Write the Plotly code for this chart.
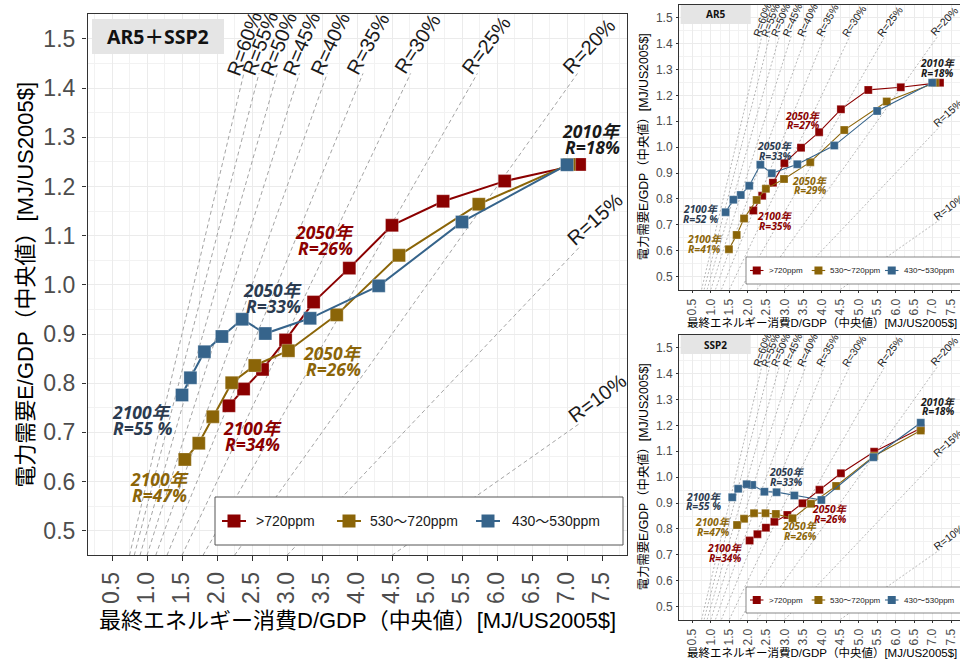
import math
import plotly.graph_objects as go

W, H = 960, 662

# ---------------------------------------------------------------- data
scenarios = [">720ppm", "530～720ppm", "430～530ppm"]
years = [2010, 2020, 2030, 2040, 2050, 2060, 2070, 2080, 2090, 2100]

# AR5＋SSP2
main_x_high = [7.18, 6.11, 5.23, 4.50, 3.89, 3.38, 2.98, 2.65, 2.38, 2.17]
main_y_high = [1.245, 1.211, 1.170, 1.121, 1.034, 0.965, 0.888, 0.828, 0.788, 0.754]
main_x_mid = [7.03, 5.74, 4.60, 3.71, 3.02, 2.54, 2.21, 1.94, 1.74, 1.54]
main_y_mid = [1.245, 1.164, 1.060, 0.939, 0.866, 0.836, 0.801, 0.732, 0.678, 0.645]
main_x_low = [7.00, 5.50, 4.31, 3.33, 2.69, 2.36, 2.07, 1.82, 1.62, 1.50]
main_y_low = [1.244, 1.128, 0.998, 0.932, 0.901, 0.930, 0.895, 0.864, 0.811, 0.776]

# AR5
ar5_x_high = [7.20, 6.14, 5.26, 4.52, 3.93, 3.44, 2.99, 2.68, 2.39, 2.15]
ar5_y_high = [1.249, 1.231, 1.221, 1.146, 1.058, 0.998, 0.938, 0.863, 0.812, 0.755]
ar5_x_mid = [7.07, 5.76, 4.61, 3.69, 2.98, 2.49, 2.24, 1.90, 1.70, 1.49]
ar5_y_mid = [1.249, 1.176, 1.066, 0.942, 0.877, 0.839, 0.796, 0.725, 0.661, 0.606]
ar5_x_low = [6.99, 5.50, 4.34, 3.34, 2.65, 2.34, 2.04, 1.81, 1.61, 1.40]
ar5_y_low = [1.249, 1.140, 1.006, 0.934, 0.899, 0.932, 0.851, 0.815, 0.797, 0.749]

# SSP2
ssp2_x_high = [6.68, 5.42, 4.52, 3.94, 3.48, 3.07, 2.72, 2.49, 2.26, 2.05]
ssp2_y_high = [1.189, 1.098, 1.015, 0.951, 0.899, 0.854, 0.828, 0.805, 0.780, 0.755]
ssp2_x_mid = [6.68, 5.42, 4.39, 3.71, 3.21, 2.76, 2.48, 2.17, 1.90, 1.71]
ssp2_y_mid = [1.180, 1.082, 0.966, 0.897, 0.841, 0.858, 0.861, 0.861, 0.839, 0.815]
ssp2_x_low = [6.68, 5.40, 3.99, 3.26, 2.78, 2.45, 2.12, 1.97, 1.74, 1.58]
ssp2_y_low = [1.210, 1.077, 0.912, 0.929, 0.942, 0.944, 0.970, 0.973, 0.955, 0.922]

# electricity share reference lines (E = R * D)
r_percent = [60, 55, 50, 45, 40, 35, 30, 25, 20, 15, 10]

x_ticks = [0.5, 1.0, 1.5, 2.0, 2.5, 3.0, 3.5, 4.0, 4.5, 5.0, 5.5, 6.0, 6.5, 7.0, 7.5]
y_ticks = [0.5, 0.6, 0.7, 0.8, 0.9, 1.0, 1.1, 1.2, 1.3, 1.4, 1.5]

# year / share call-outs: (series, point index, year text, share text)
main_notes = [(0, 0, "2010年", "R=18%"), (0, 4, "2050年", "R=26%"), (2, 4, "2050年", "R=33%"),
              (1, 4, "2050年", "R=26%"), (2, 9, "2100年", "R=55 %"), (0, 9, "2100年", "R=34%"),
              (1, 9, "2100年", "R=47%")]
ar5_notes = [(0, 0, "2010年", "R=18%"), (0, 4, "2050年", "R=27%"), (0, 9, "2100年", "R=35%"),
             (2, 4, "2050年", "R=33%"), (2, 9, "2100年", "R=52 %"), (1, 4, "2050年", "R=29%"),
             (1, 9, "2100年", "R=41%")]
ssp2_notes = [(0, 0, "2010年", "R=18%"), (0, 4, "2050年", "R=26%"), (0, 9, "2100年", "R=34%"),
              (2, 4, "2050年", "R=33%"), (2, 9, "2100年", "R=55 %"), (1, 4, "2050年", "R=26%"),
              (1, 9, "2100年", "R=47%")]

x_title = "最終エネルギー消費D/GDP（中央値）[MJ/US2005$]"
y_title = "電力需要E/GDP（中央値）[MJ/US2005$]"

# ---------------------------------------------------------------- styles
series_colors = ["#8B0000", "#8B6508", "#36648B"]
note_colors = ["#8B0000", "#8B6508", "#2B3B50"]
black_note = "#1A1A1A"
LATIN = "Liberation Sans, Arial, Noto Sans CJK JP"
NOTE_FONT = "Open Sans, Noto Sans CJK JP"

r_angle = {60: 70, 55: 69, 50: 68, 45: 67, 40: 65, 35: 61, 30: 57, 25: 53, 20: 47, 15: 42, 10: 37}

panels = [
    dict(key="", px=(87.5, 626.5), py=(14.4, 555.3), xr=(0.15, 7.85), s=1.0,
         xs=[main_x_high, main_x_mid, main_x_low], ys=[main_y_high, main_y_mid, main_y_low],
         notes=main_notes,
         shifts=[(12.7, -25.3), (-24, -28), (8, -36), (45, 10), (-40, 25), (24, 30), (-25, 28)],
         strip="AR5＋SSP2", strip_box=(92, 19, 224, 54),
         tick=23, ticklen=4.5, title=22, title_x=26, title_y=620, marker=13, lw=2.0,
         rfont=20, nfont=17.5, gap=16, sfont=19.5, lfont=14, lmark=13,
         legend_box=(215, 497, 623, 545), sym_x=[7, 122, 261], sym_len=24, txt_x=[39, 153, 295],
         dash="4px,3px", dashw=0.9, border=1.1),
    dict(key="2", px=(679.4, 960), py=(4.7, 289.6), xr=(0.15, 7.742), s=0.528,
         xs=[ar5_x_high, ar5_x_mid, ar5_x_low], ys=[ar5_y_high, ar5_y_mid, ar5_y_low],
         notes=ar5_notes,
         shifts=[(-2, -14.7), (-15.7, -11.6), (21.7, 10.3), (3.3, -22.3), (-24.7, 1.7), (26, 6.7), (-24, -5.3)],
         strip="AR5", strip_box=(680.7, 5, 750.7, 24),
         tick=12, ticklen=2.5, title=12.3, title_x=643, title_y=322.7, marker=8, lw=1.1,
         rfont=10.5, nfont=10.3, gap=9.3, sfont=10, lfont=8, lmark=8,
         legend_box=(746, 257, 963, 284), sym_x=[4, 65.7, 139], sym_len=13.5, txt_x=[20.7, 81.5, 155.7],
         dash="2px,2px", dashw=0.7, border=0.8),
    dict(key="3", px=(679.4, 960), py=(334.7, 619.6), xr=(0.15, 7.742), s=0.528,
         xs=[ssp2_x_high, ssp2_x_mid, ssp2_x_low], ys=[ssp2_y_high, ssp2_y_mid, ssp2_y_low],
         notes=ssp2_notes,
         shifts=[(17.6, -22), (27.7, 10.7), (-24.3, 12.3), (10, -15.3), (-28.3, 4.4), (7.7, 12.7), (-24, 2)],
         strip="SSP2", strip_box=(680.7, 335, 750.7, 354),
         tick=12, ticklen=2.5, title=12.3, title_x=643, title_y=652.7, marker=8, lw=1.1,
         rfont=10.5, nfont=10.3, gap=9.3, sfont=10, lfont=8, lmark=8,
         legend_box=(746, 587, 963, 613), sym_x=[4, 65.7, 139], sym_len=13.5, txt_x=[20.7, 81.5, 155.7],
         dash="2px,2px", dashw=0.7, border=0.8),
]


def fx(px):
    return px / W


def fy(py):
    return 1 - py / H


fig = go.Figure()
annotations = []
shapes = []

for p in panels:
    xa, ya = "x" + p["key"], "y" + p["key"]
    s = p["s"]

    # reference share lines
    for r in r_percent:
        R = r / 100
        x0 = 0.45 / R
        x1 = min(1.43 / R, 7.2)
        fig.add_trace(go.Scatter(
            x=[x0, x1], y=[R * x0, R * x1], mode="lines", xaxis=xa, yaxis=ya,
            line=dict(color="#9A9A9A", width=p["dashw"], dash=p["dash"]),
            hoverinfo="skip", showlegend=False))
        th = math.radians(r_angle[r])
        along, perp = 28 * s, 10 * s
        annotations.append(dict(
            x=x1, y=R * x1, xref=xa, yref=ya, text=f"R={r}%", showarrow=False,
            textangle=-r_angle[r], xanchor="center", yanchor="middle",
            xshift=along * math.cos(th) - perp * math.sin(th),
            yshift=along * math.sin(th) + perp * math.cos(th),
            font=dict(family=LATIN, size=p["rfont"], color="#1A1A1A")))

    # scenario paths
    for i, name in enumerate(scenarios):
        fig.add_trace(go.Scatter(
            x=p["xs"][i], y=p["ys"][i], mode="lines+markers", name=name,
            xaxis=xa, yaxis=ya, showlegend=False,
            line=dict(color=series_colors[i], width=p["lw"]),
            marker=dict(symbol="square", size=p["marker"], color=series_colors[i],
                        line=dict(color="rgba(255,255,255,0.35)", width=0.8))))

    # call-outs
    for (si, pi, l1, l2), (dx, dy) in zip(p["notes"], p["shifts"]):
        col = black_note if pi == 0 else note_colors[si]
        for txt, off in ((l1, -p["gap"] / 2), (l2, p["gap"] / 2)):
            annotations.append(dict(
                x=p["xs"][si][pi], y=p["ys"][si][pi], xref=xa, yref=ya, text=txt,
                showarrow=False, xanchor="center", yanchor="middle",
                xshift=dx, yshift=-(dy + off),
                font=dict(family=NOTE_FONT, size=p["nfont"], color=col,
                          weight="bold", style="italic")))

    # panel tag
    bx0, by0, bx1, by1 = p["strip_box"]
    shapes.append(dict(type="rect", xref="paper", yref="paper", x0=fx(bx0), x1=fx(bx1),
                       y0=fy(by1), y1=fy(by0), fillcolor="#E5E5E5", line=dict(width=0), layer="above"))
    annotations.append(dict(x=fx((bx0 + bx1) / 2), y=fy((by0 + by1) / 2), xref="paper", yref="paper",
                            text=f"<b>{p['strip']}</b>", showarrow=False,
                            xanchor="center", yanchor="middle",
                            font=dict(family="Noto Sans, Noto Sans CJK JP", size=p["sfont"], color="#111111")))

    # legend
    lx0, ly0, lx1, ly1 = p["legend_box"]
    yc = (ly0 + ly1) / 2
    shapes.append(dict(type="rect", xref="paper", yref="paper", x0=fx(lx0), x1=fx(lx1),
                       y0=fy(ly1), y1=fy(ly0), fillcolor="white",
                       line=dict(color="#555555", width=1 if s == 1 else 0.7), layer="above"))
    for i, name in enumerate(scenarios):
        sx0 = lx0 + p["sym_x"][i]
        sx1 = sx0 + p["sym_len"]
        sc = (sx0 + sx1) / 2
        hm = p["lmark"] / 2
        shapes.append(dict(type="line", xref="paper", yref="paper", x0=fx(sx0), x1=fx(sx1),
                           y0=fy(yc), y1=fy(yc), line=dict(color=series_colors[i], width=p["lw"]),
                           layer="above"))
        shapes.append(dict(type="rect", xref="paper", yref="paper", x0=fx(sc - hm), x1=fx(sc + hm),
                           y0=fy(yc + hm), y1=fy(yc - hm), fillcolor=series_colors[i],
                           line=dict(width=0), layer="above"))
        annotations.append(dict(x=fx(lx0 + p["txt_x"][i]), y=fy(yc), xref="paper", yref="paper",
                                text=name, showarrow=False, xanchor="left", yanchor="middle",
                                font=dict(family=LATIN, size=p["lfont"], color="#1A1A1A")))

    # axis titles
    cx = (p["px"][0] + p["px"][1]) / 2 if s == 1 else (679.4 + 964) / 2
    cy = (p["py"][0] + p["py"][1]) / 2
    annotations.append(dict(x=fx(cx), y=fy(p["title_y"]), xref="paper", yref="paper", text=x_title,
                            showarrow=False, xanchor="center", yanchor="middle",
                            font=dict(family=LATIN, size=p["title"] if s == 1 else 11.5, color="black")))
    annotations.append(dict(x=fx(p["title_x"]), y=fy(cy), xref="paper", yref="paper", text=y_title,
                            showarrow=False, textangle=-90, xanchor="center", yanchor="middle",
                            font=dict(family=LATIN, size=p["title"], color="black")))

    grid_major = dict(showgrid=True, gridcolor="#EBEBEB", gridwidth=1.2 * s + 0.2)
    common = dict(ticks="outside", ticklen=p["ticklen"], tickwidth=p["border"], tickcolor="#333333",
                  showline=True, linecolor="#333333", linewidth=p["border"], zeroline=False,
                  tickfont=dict(family=LATIN, size=p["tick"], color="#4D4D4D"),
                  tickformat=".1f", ticklabelstandoff=2 if s == 1 else 1, **grid_major)
    fig.update_layout(**{
        "xaxis" + p["key"]: dict(
            domain=[fx(p["px"][0]), fx(p["px"][1])], range=list(p["xr"]), anchor=ya,
            tickvals=x_ticks, tickangle=-90, mirror=True,
            minor=dict(dtick=0.25, tick0=0.25, showgrid=True, gridcolor="#F2F2F2", gridwidth=0.8 * s),
            **common),
        "yaxis" + p["key"]: dict(
            domain=[fy(p["py"][1]), fy(p["py"][0])], range=[0.45, 1.55], anchor=xa,
            tickvals=y_ticks, mirror=(s == 1),
            minor=dict(dtick=0.05, tick0=0.05, showgrid=True, gridcolor="#F2F2F2", gridwidth=0.8 * s),
            **common),
    })

fig.update_layout(
    width=W, height=H, margin=dict(l=0, r=0, t=0, b=0),
    paper_bgcolor="white", plot_bgcolor="white",
    showlegend=False, annotations=annotations, shapes=shapes,
)

fig.write_html("out.html")
